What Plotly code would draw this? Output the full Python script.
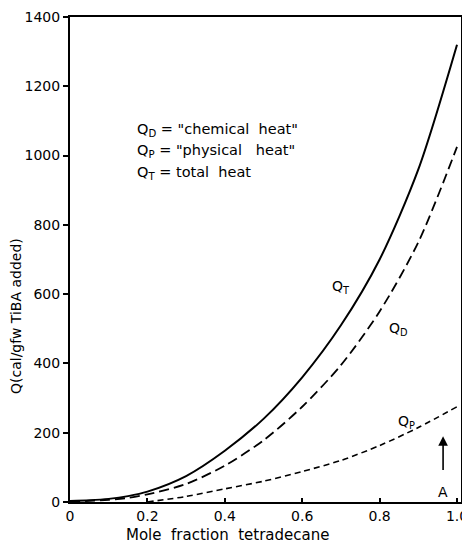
import plotly.graph_objects as go

# Mole fraction tetradecane
x_t = [0.0, 0.05, 0.1, 0.15, 0.2, 0.3, 0.4, 0.5, 0.6, 0.7, 0.8, 0.9, 1.0]
q_total = [3, 5, 9, 17, 30, 75, 148, 240, 360, 510, 700, 960, 1320]

x_d = [0.0, 0.05, 0.1, 0.15, 0.2, 0.3, 0.4, 0.5, 0.6, 0.7, 0.8, 0.9, 1.0]
q_chem = [2, 3, 6, 12, 22, 52, 105, 178, 275, 395, 550, 750, 1025]

x_p = [0.2, 0.3, 0.4, 0.5, 0.6, 0.7, 0.8, 0.9, 1.0]
q_phys = [0, 16, 38, 60, 88, 120, 163, 215, 275]

x_ticks = [0, 0.2, 0.4, 0.6, 0.8, 1.0]
x_tick_text = ["0", "0.2", "0.4", "0.6", "0.8", "1.0"]
y_ticks = [0, 200, 400, 600, 800, 1000, 1200, 1400]
y_tick_text = ["0", "200", "400", "600", "800", "1000", "1200", "1400"]

FONT = "DejaVu Sans"

fig = go.Figure()
fig.add_trace(go.Scatter(x=x_t, y=q_total, mode="lines", line=dict(color="black", width=2, shape="spline", smoothing=0.8), showlegend=False))
fig.add_trace(go.Scatter(x=x_d, y=q_chem, mode="lines", line=dict(color="black", width=1.8, dash="10px,5px", shape="spline", smoothing=0.8), showlegend=False))
fig.add_trace(go.Scatter(x=x_p, y=q_phys, mode="lines", line=dict(color="black", width=1.6, dash="6px,4px", shape="spline", smoothing=0.8), showlegend=False))

ann = []
def txt(x, y, s, size=14, xanchor="left", xref="x", yref="y", angle=0, yanchor="middle"):
    ann.append(dict(x=x, y=y, xref=xref, yref=yref, text=s, showarrow=False, textangle=angle,
                    xanchor=xanchor, yanchor=yanchor, font=dict(family=FONT, size=size, color="black")))

txt(0.168, 1075, 'Q<sub>D</sub> = "chemical  heat"', size=14.5)
txt(0.168, 1013, 'Q<sub>P</sub> = "physical   heat"', size=14.5)
txt(0.168, 951, 'Q<sub>T</sub> = total  heat', size=14.5)
txt(0.70, 620, 'Q<sub>T</sub>', xanchor="center")
txt(0.85, 500, 'Q<sub>D</sub>', xanchor="center")
txt(0.87, 230, 'Q<sub>P</sub>', xanchor="center")
txt(0.964, 28, 'A', size=14, xanchor="center")

# axis titles placed as annotations for exact position
txt(-0.138, 537, 'Q(cal/gfw TiBA added)', size=14, xanchor="center", xref="paper", angle=-90)
txt(0.408, -0.069, 'Mole  fraction  tetradecane', size=15, xanchor="center", yref="paper", yanchor="middle")

ann.append(dict(x=0.964, y=190, ax=0.964, ay=88, xref="x", yref="y", axref="x", ayref="y",
                text="", showarrow=True, arrowhead=2, arrowsize=1.2, arrowwidth=1.6, arrowcolor="black"))

fig.update_layout(
    width=462, height=547,
    margin=dict(l=70, r=1, t=17, b=45),
    paper_bgcolor="white", plot_bgcolor="white",
    font=dict(family=FONT, size=14, color="black"),
    annotations=ann,
    xaxis=dict(range=[0, 1.0103], tickvals=x_ticks, ticktext=x_tick_text,
               ticks="inside", ticklen=4, tickwidth=1.5, tickcolor="black",
               showline=True, linecolor="black", linewidth=2, mirror=True,
               showgrid=False, zeroline=False, automargin=False,
               ticklabeloverflow="allow",
               tickfont=dict(family=FONT, size=14)),
    yaxis=dict(range=[0, 1400], tickvals=y_ticks, ticktext=y_tick_text,
               ticks="outside", ticklen=5, tickwidth=1.5, tickcolor="black",
               showline=True, linecolor="black", linewidth=2, mirror=True,
               showgrid=False, zeroline=False, automargin=False,
               tickfont=dict(family=FONT, size=14)),
)

fig.write_html("out.html", config={"displayModeBar": False},
               post_script="document.body.style.margin='0';document.body.style.overflow='hidden';")
